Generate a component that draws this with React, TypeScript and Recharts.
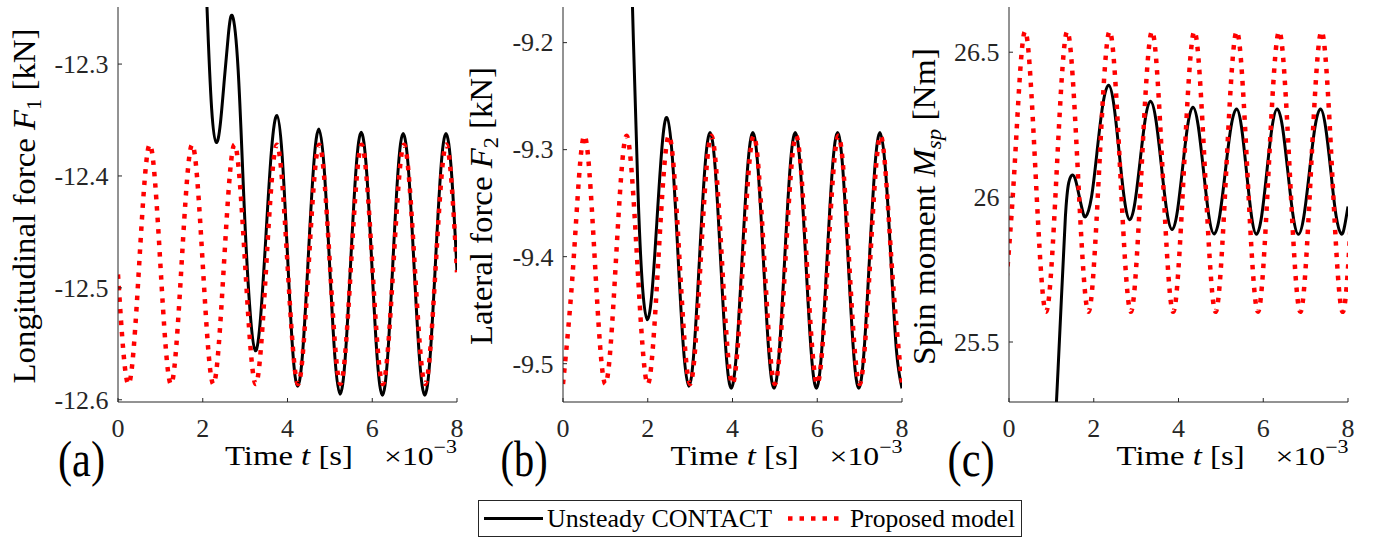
import React from "react";
import { LineChart, Line, XAxis, YAxis } from "recharts";

const SERIF = '"Liberation Serif", serif';
const AXIS = "#262626";

// time axis in ms (the axis shows x10^-3 s)
const xTicks = [0, 2, 4, 6, 8];
const ticksA = [-12.6, -12.5, -12.4, -12.3];
const ticksB = [-9.5, -9.4, -9.3, -9.2];
const ticksC = [25.5, 26, 26.5];

// proposed model (red dotted)
const redTimeAB = [0, 0.25, 0.5, 0.75, 1, 1.25, 1.5, 1.75, 2, 2.25, 2.5, 2.75, 3, 3.25, 3.5, 3.75, 4, 4.25, 4.5, 4.75, 5, 5.25, 5.5, 5.75, 6, 6.25, 6.5, 6.75, 7, 7.25, 7.5, 7.75, 8];
const redA = [
  -12.488, -12.586, -12.479, -12.372, -12.479, -12.586, -12.479, -12.372,
  -12.479, -12.586, -12.479, -12.372, -12.479, -12.586, -12.479, -12.372,
  -12.479, -12.586, -12.479, -12.372, -12.479, -12.586, -12.479, -12.372,
  -12.479, -12.586, -12.479, -12.372, -12.479, -12.586, -12.479, -12.372,
  -12.486,
];
const redB = [
  -9.519, -9.403, -9.287, -9.403, -9.519, -9.403, -9.287, -9.403,
  -9.519, -9.403, -9.287, -9.403, -9.519, -9.403, -9.287, -9.403,
  -9.519, -9.403, -9.287, -9.403, -9.519, -9.403, -9.287, -9.403,
  -9.519, -9.403, -9.287, -9.403, -9.519, -9.403, -9.287, -9.403,
  -9.519,
];
const redTimeC = [-0.125, 0.125, 0.375, 0.625, 0.875, 1.125, 1.375, 1.625, 1.875, 2.125, 2.375, 2.625, 2.875, 3.125, 3.375, 3.625, 3.875, 4.125, 4.375, 4.625, 4.875, 5.125, 5.375, 5.625, 5.875, 6.125, 6.375, 6.625, 6.875, 7.125, 7.375, 7.625, 7.875, 8.125];
const redC = [
  25.604, 26.088, 26.572, 26.088, 25.604, 26.088, 26.572, 26.088,
  25.604, 26.088, 26.572, 26.088, 25.604, 26.088, 26.572, 26.088,
  25.604, 26.088, 26.572, 26.088, 25.604, 26.088, 26.572, 26.088,
  25.604, 26.088, 26.572, 26.088, 25.604, 26.088, 26.572, 26.088,
  25.604, 26.088,
];

// unsteady CONTACT (black)
const blackTimeA = [1.88, 2.0, 2.1, 2.21, 2.32, 2.415, 2.51, 2.605, 2.7, 2.835, 2.97, 3.105, 3.24, 3.3675, 3.495, 3.6225, 3.75, 3.8725, 3.995, 4.1175, 4.24, 4.365, 4.49, 4.615, 4.74, 4.865, 4.99, 5.115, 5.24, 5.365, 5.49, 5.615, 5.74, 5.865, 5.99, 6.115, 6.24, 6.3625, 6.485, 6.6075, 6.73, 6.8575, 6.985, 7.1125, 7.24, 7.365, 7.49, 7.615, 7.74, 7.87, 8.0];
const blackA = [
  -12.0, -12.14, -12.249, -12.34, -12.37, -12.3535, -12.3135, -12.2735, -12.257,
  -12.305, -12.42, -12.515, -12.556, -12.525, -12.451, -12.377, -12.346,
  -12.381, -12.467, -12.553, -12.588, -12.554, -12.473, -12.392, -12.358,
  -12.393, -12.4765, -12.56, -12.595, -12.561, -12.478, -12.395, -12.361,
  -12.395, -12.4785, -12.562, -12.596, -12.562, -12.479, -12.396, -12.362,
  -12.396, -12.479, -12.562, -12.596, -12.562, -12.479, -12.396, -12.362,
  -12.397, -12.485,
];
const blackTimeB = [1.52, 1.64, 1.77, 1.88, 1.99, 2.105, 2.22, 2.335, 2.45, 2.58, 2.71, 2.84, 2.97, 3.095, 3.22, 3.345, 3.47, 3.595, 3.72, 3.845, 3.97, 4.0975, 4.225, 4.3525, 4.48, 4.605, 4.73, 4.855, 4.98, 5.105, 5.23, 5.355, 5.48, 5.605, 5.73, 5.855, 5.98, 6.105, 6.23, 6.355, 6.48, 6.605, 6.73, 6.855, 6.98, 7.105, 7.23, 7.355, 7.48, 7.61, 7.74, 7.87, 8.0];
const blackB = [
  -8.99, -9.167, -9.34, -9.43, -9.459, -9.431, -9.3645, -9.298, -9.27,
  -9.307, -9.3955, -9.484, -9.521, -9.486, -9.4025, -9.319, -9.284,
  -9.319, -9.4035, -9.488, -9.523, -9.488, -9.4035, -9.319, -9.284,
  -9.319, -9.4035, -9.488, -9.523, -9.488, -9.4035, -9.319, -9.284,
  -9.319, -9.4035, -9.488, -9.523, -9.488, -9.4035, -9.319, -9.284,
  -9.319, -9.4035, -9.488, -9.523, -9.488, -9.4035, -9.319, -9.284,
  -9.319, -9.4035, -9.488, -9.523,
];
const blackTimeC = [1.0, 1.12, 1.235, 1.33, 1.41, 1.5, 1.5775, 1.655, 1.7325, 1.81, 1.945, 2.08, 2.215, 2.35, 2.475, 2.6, 2.725, 2.85, 2.9725, 3.095, 3.2175, 3.34, 3.4675, 3.595, 3.7225, 3.85, 3.9725, 4.095, 4.2175, 4.34, 4.465, 4.59, 4.715, 4.84, 4.9725, 5.105, 5.2375, 5.37, 5.4875, 5.605, 5.7225, 5.84, 5.9625, 6.085, 6.2075, 6.33, 6.455, 6.58, 6.705, 6.83, 6.96, 7.09, 7.22, 7.35, 7.4725, 7.595, 7.7175, 7.84, 7.92, 8.0];
const blackC = [
  24.95, 25.293, 25.644, 25.93, 26.05, 26.076, 26.055, 26.0045, 25.954, 25.933,
  25.999, 26.1595, 26.32, 26.386, 26.318, 26.154, 25.99, 25.922,
  25.982, 26.1265, 26.271, 26.331, 26.266, 26.1095, 25.953, 25.888,
  25.95, 26.099, 26.248, 26.31, 26.246, 26.0915, 25.937, 25.873,
  25.936, 26.0885, 26.241, 26.304, 26.241, 26.088, 25.935, 25.872,
  25.935, 26.088, 26.241, 26.304, 26.241, 26.088, 25.935, 25.872,
  25.935, 26.088, 26.241, 26.304, 26.24, 26.0885, 25.937, 25.873,
  25.9, 25.968,
];

const zip = (t: number[], v: number[]) => t.map((x, i) => ({ t: x, v: v[i] }));

const font = (size: number): React.CSSProperties => ({ fontFamily: SERIF, fontSize: size });

const YTick = (p: any) => (
  <text x={p.x} y={p.y} dy="0.34em" textAnchor="end" style={font(26)} fill={AXIS}>
    {String(p.payload.value)}
  </text>
);
const XTick = (p: any) => (
  <text x={p.x} y={p.y} dy={19} textAnchor="middle" style={font(26)} fill={AXIS}>
    {String(p.payload.value)}
  </text>
);

interface PanelProps {
  left: number;
  black: { t: number; v: number }[];
  red: { t: number; v: number }[];
  domain: [number, number];
  ticks: number[];
}

function Panel({ left, black, red, domain, ticks }: PanelProps) {
  return (
    <div style={{ position: "absolute", left, top: 0 }}>
      <LineChart width={469} height={450} margin={{ top: 7, right: 20, bottom: 8, left: 0 }}>
        <XAxis dataKey="t" type="number" domain={[0, 8]} allowDataOverflow ticks={xTicks} interval={0}
          height={40} tickSize={-4} tickMargin={20} tick={XTick} stroke={AXIS} />
        <XAxis xAxisId="top" orientation="top" dataKey="t" type="number" domain={[0, 8]} allowDataOverflow
          ticks={xTicks} interval={0} height={0} tickSize={-4} tick={false} stroke={AXIS} />
        <YAxis type="number" domain={domain} allowDataOverflow ticks={ticks} interval={0}
          width={110} tickSize={-4} tickMargin={13.4} tick={YTick} stroke={AXIS} />
        <YAxis yAxisId="right" orientation="right" type="number" domain={domain} allowDataOverflow ticks={ticks}
          interval={0} width={0} tickSize={-4} tick={false} stroke={AXIS} />
        <Line data={black} dataKey="v" type="natural" stroke="#000000" strokeWidth={3}
          dot={false} activeDot={false} isAnimationActive={false} />
        <Line data={red} dataKey="v" type="natural" stroke="#ff0000" strokeWidth={4.5}
          strokeDasharray="4.5 7" dot={false} activeDot={false} isAnimationActive={false} />
      </LineChart>
    </div>
  );
}

function Labels() {
  const panels = [
    { dx: 0, tagDx: 0, tag: "(a)" },
    { dx: 445.6, tagDx: 442.6, tag: "(b)" },
    { dx: 891.6, tagDx: 889.6, tag: "(c)" },
  ];
  return (
    <svg width={1379} height={539} style={{ position: "absolute", left: 0, top: 0, pointerEvents: "none" }}>
      <text transform="translate(34.5,206) rotate(-90)" textAnchor="middle" style={font(31)} fill="#000"
        textLength={355} lengthAdjust="spacingAndGlyphs">
        {"Longitudinal force "}<tspan fontStyle="italic">F</tspan><tspan fontSize={21} dy={6}>1</tspan>
        <tspan dy={-6}>{" [kN]"}</tspan>
      </text>
      <text transform="translate(492,206) rotate(-90)" textAnchor="middle" style={font(31)} fill="#000"
        textLength={278} lengthAdjust="spacingAndGlyphs">
        {"Lateral force "}<tspan fontStyle="italic">F</tspan><tspan fontSize={21} dy={6}>2</tspan>
        <tspan dy={-6}>{" [kN]"}</tspan>
      </text>
      <text transform="translate(934.5,206.5) rotate(-90)" textAnchor="middle" style={font(31)} fill="#000"
        textLength={317} lengthAdjust="spacingAndGlyphs">
        {"Spin moment "}<tspan fontStyle="italic">M</tspan><tspan fontSize={21} dy={6} fontStyle="italic">sp</tspan>
        <tspan dy={-6}>{" [Nm]"}</tspan>
      </text>
      {panels.map((p) => (
        <g key={p.tag}>
          <text x={58 + p.tagDx} y={476} style={font(50)} fill="#000" textLength={47} lengthAdjust="spacingAndGlyphs">
            {p.tag}
          </text>
          <text x={225 + p.dx} y={465} style={font(27)} fill="#000" textLength={128} lengthAdjust="spacingAndGlyphs">
            {"Time  "}<tspan fontStyle="italic">t</tspan>{"  [s]"}
          </text>
          <text x={384 + p.dx} y={465} style={font(26)} fill="#000" textLength={73} lengthAdjust="spacingAndGlyphs">
            {"×10"}<tspan fontSize={18} dy={-12}>{"−3"}</tspan>
          </text>
        </g>
      ))}
      <rect x={478.5} y={500.5} width={543} height={36} fill="#fff" stroke={AXIS} strokeWidth={1} />
      <line x1={484} y1={518.5} x2={543} y2={518.5} stroke="#000" strokeWidth={3} />
      <text x={547} y={527} style={font(25)} fill="#000" textLength={225} lengthAdjust="spacingAndGlyphs">
        Unsteady CONTACT
      </text>
      <line x1={788} y1={518.5} x2={840} y2={518.5} stroke="#ff0000" strokeWidth={4.5} strokeDasharray="4.5 7" />
      <text x={850} y={527} style={font(25)} fill="#000" textLength={165} lengthAdjust="spacingAndGlyphs">
        Proposed model
      </text>
    </svg>
  );
}

export default function App() {
  return (
    <div style={{ position: "absolute", left: 0, top: 0, width: 1379, height: 539, background: "#fff", overflow: "hidden" }}>
      <Panel left={7.7} black={zip(blackTimeA, blackA)} red={zip(redTimeAB, redA)} domain={[-12.602, -12.249]} ticks={ticksA} />
      <Panel left={453.3} black={zip(blackTimeB, blackB)} red={zip(redTimeAB, redB)} domain={[-9.5358, -9.1667]} ticks={ticksB} />
      <Panel left={899.3} black={zip(blackTimeC, blackC)} red={zip(redTimeC, redC)} domain={[25.293, 26.656]} ticks={ticksC} />
      <Labels />
    </div>
  );
}
